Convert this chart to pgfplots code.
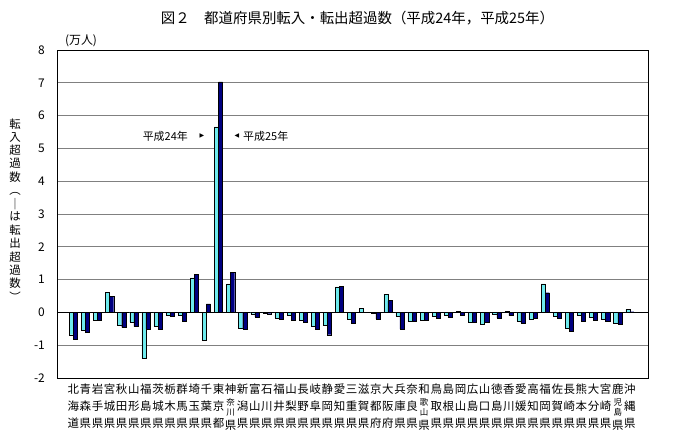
\documentclass[border=0pt]{standalone}
\usepackage{fontspec}
\setmainfont{Noto Sans CJK JP}
\newfontfamily\dejavu{DejaVu Sans}
\usepackage{pgfplots}
\usepackage{pgfplotstable}
\pgfplotsset{compat=1.18}
\definecolor{c24}{RGB}{110,235,238}
\definecolor{c25}{RGB}{0,0,128}
\definecolor{gridc}{RGB}{128,128,128}
\newcommand{\vt}[3]{\begin{tabular}{@{}c@{}}#1\\#2\\#3\end{tabular}}
\newcommand{\vf}[4]{\begin{tabular}{@{}c@{}}#1\\\raisebox{0.6bp}{\fontsize{8.5}{8.3}\selectfont\begin{tabular}{@{}c@{}}#2\\#3\end{tabular}}\\#4\end{tabular}}
\pgfplotstableread{
x h24 h25
0 -0.68 -0.82
1 -0.54 -0.61
2 -0.23 -0.23
3 0.61 0.48
4 -0.38 -0.46
5 -0.29 -0.43
6 -1.41 -0.51
7 -0.43 -0.51
8 -0.10 -0.13
9 -0.10 -0.26
10 1.05 1.15
11 -0.84 0.26
12 5.66 7.03
13 0.87 1.23
14 -0.48 -0.51
15 -0.04 -0.14
16 -0.03 -0.04
17 -0.17 -0.21
18 -0.09 -0.23
19 -0.24 -0.29
20 -0.41 -0.50
21 -0.38 -0.68
22 0.78 0.80
23 -0.22 -0.33
24 0.13 0.01
25 -0.02 -0.20
26 0.56 0.36
27 -0.12 -0.51
28 -0.27 -0.27
29 -0.25 -0.25
30 -0.13 -0.17
31 -0.10 -0.15
32 0.03 -0.08
33 -0.29 -0.29
34 -0.37 -0.30
35 -0.07 -0.17
36 0.03 -0.10
37 -0.26 -0.33
38 -0.20 -0.17
39 0.87 0.60
40 -0.12 -0.17
41 -0.47 -0.58
42 -0.08 -0.28
43 -0.15 -0.24
44 -0.20 -0.28
45 -0.34 -0.36
46 0.10 0.02
}\data
\begin{document}
\begin{tikzpicture}
\useasboundingbox (-57bp,-53bp) rectangle (630bp,378bp);
\begin{axis}[
  scale only axis, width=591bp, height=328bp,
  xmin=-1.35, xmax=47.5, ymin=-2, ymax=8,
  ybar=0pt, bar width=4.1bp,
  ytick={-2,...,8},
  xtick={0,...,46},
  xticklabels={{\vt{北}{海}{道}},{\vt{青}{森}{県}},{\vt{岩}{手}{県}},{\vt{宮}{城}{県}},{\vt{秋}{田}{県}},{\vt{山}{形}{県}},{\vt{福}{島}{県}},{\vt{茨}{城}{県}},{\vt{栃}{木}{県}},{\vt{群}{馬}{県}},{\vt{埼}{玉}{県}},{\vt{千}{葉}{県}},{\vt{東}{京}{都}},{\vf{神}{奈}{川}{県}},{\vt{新}{潟}{県}},{\vt{富}{山}{県}},{\vt{石}{川}{県}},{\vt{福}{井}{県}},{\vt{山}{梨}{県}},{\vt{長}{野}{県}},{\vt{岐}{阜}{県}},{\vt{静}{岡}{県}},{\vt{愛}{知}{県}},{\vt{三}{重}{県}},{\vt{滋}{賀}{県}},{\vt{京}{都}{府}},{\vt{大}{阪}{府}},{\vt{兵}{庫}{県}},{\vt{奈}{良}{県}},{\vf{和}{歌}{山}{県}},{\vt{鳥}{取}{県}},{\vt{島}{根}{県}},{\vt{岡}{山}{県}},{\vt{広}{島}{県}},{\vt{山}{口}{県}},{\vt{徳}{島}{県}},{\vt{香}{川}{県}},{\vt{愛}{媛}{県}},{\vt{高}{知}{県}},{\vt{福}{岡}{県}},{\vt{佐}{賀}{県}},{\vt{長}{崎}{県}},{\vt{熊}{本}{県}},{\vt{大}{分}{県}},{\vt{宮}{崎}{県}},{\vf{鹿}{児}{島}{県}},{\vt{沖}{縄}{県}}},
  major tick length=0pt,
  ymajorgrids, grid style={gridc, line width=0.8bp},
  extra y ticks={0}, extra y tick labels={},
  extra y tick style={grid style={black, line width=1bp}},
  axis line style={black, line width=1bp},
  /pgf/number format/assume math mode=true,
  yticklabel style={font=\fontsize{12}{12}\selectfont, inner sep=0pt, xshift=-12bp},
  xticklabel style={font=\fontsize{11.5}{16.7}\selectfont, inner sep=0pt, yshift=-4bp, anchor=north},
]
\addplot[fill=c24, draw=black, line width=0.4bp] table[x=x,y=h24]{\data};
\addplot[fill=c25, draw=black, line width=0.4bp] table[x=x,y=h25]{\data};
\end{axis}
\node at (300.5bp,360bp) {\fontsize{14.5}{14.5}\selectfont 図２　都道府県別転入・転出超過数（平成24年，平成25年）};
\node at (24bp,337bp) {\fontsize{12}{12}\selectfont (万人)};
\node[anchor=east, inner sep=0pt] at (131bp,242bp) {\fontsize{11}{11}\selectfont 平成24年};
\node[inner sep=0pt] at (145bp,242bp) {\dejavu\fontsize{6}{6}\selectfont ▶};
\node[inner sep=0pt] at (180bp,242bp) {\dejavu\fontsize{6}{6}\selectfont ◀};
\node[anchor=west, inner sep=0pt] at (186bp,242bp) {\fontsize{11}{11}\selectfont 平成25年};
\node at (-42bp,166bp) {\fontsize{11.5}{12.8}\selectfont\begin{tabular}{@{}c@{}}転\\入\\超\\過\\数\\︵\\｜\\は\\転\\出\\超\\過\\数\\︶\end{tabular}};
\end{tikzpicture}
\end{document}
